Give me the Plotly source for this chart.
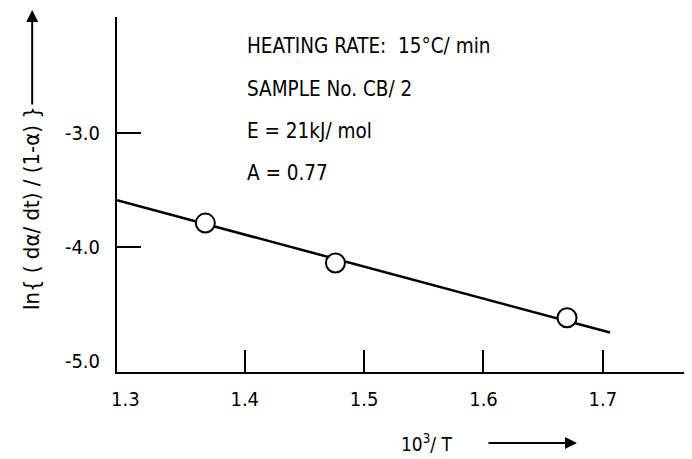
import plotly.graph_objects as go

# Data
x_points = [1.367, 1.476, 1.670]
y_points = [-3.79, -4.14, -4.62]
fit_x = [1.293, 1.706]
fit_y = [-3.59, -4.75]

x_tickvals = [1.3, 1.4, 1.5, 1.6, 1.7]
x_ticktext = ["1.3", "1.4", "1.5", "1.6", "1.7"]
y_tickvals = [-3.0, -4.0, -5.0]
y_ticktext = ["-3.0", "-4.0", "-5.0"]

info_lines = ["HEATING RATE:  15°C/ min", "SAMPLE No. CB/ 2", "E = 21kJ/ mol", "A = 0.77"]

FONT = "DejaVu Sans Condensed, DejaVu Sans, sans-serif"

fig = go.Figure()
fig.add_trace(go.Scatter(x=fit_x, y=fit_y, mode="lines",
                         line=dict(color="black", width=2.5), showlegend=False))
fig.add_trace(go.Scatter(x=x_points, y=y_points, mode="markers",
                         marker=dict(size=19, color="white", line=dict(color="black", width=2)),
                         showlegend=False))

# page body has an 8px margin: plot area sits at 117..690 x 17..372 in the window
fig.update_layout(
    width=684, height=451,
    margin=dict(l=109, r=2, t=9, b=87),
    paper_bgcolor="white", plot_bgcolor="white",
    font=dict(family=FONT, size=20, color="black"),
    xaxis=dict(range=[1.293, 1.773], showgrid=False, zeroline=False,
               showline=True, linecolor="black", linewidth=2,
               tickvals=x_tickvals, ticktext=x_ticktext, ticks="",
               ticklabelstandoff=8,
               minor=dict(tickvals=[1.4, 1.5, 1.6, 1.7], ticks="inside", ticklen=22,
                          tickwidth=2, tickcolor="black", showgrid=False)),
    yaxis=dict(range=[-5.096, -1.982], showgrid=False, zeroline=False,
               showline=True, linecolor="black", linewidth=2,
               tickvals=y_tickvals, ticktext=y_ticktext, ticks="",
               ticklabelstandoff=11,
               minor=dict(tickvals=[-3.0, -4.0], ticks="inside", ticklen=24,
                          tickwidth=2, tickcolor="black", showgrid=False)),
)

ys = [0.918, 0.797, 0.679, 0.560]
for txt, yy in zip(info_lines, ys):
    fig.add_annotation(text=txt, xref="paper", yref="paper", x=0.2234, y=yy,
                       xanchor="left", yanchor="middle", showarrow=False,
                       font=dict(size=20.5))

# y-axis title with its upward arrow
fig.add_annotation(text="ln{ ( dα/ dt) / (1-α) }", xref="paper", yref="paper",
                   x=-0.148, y=1.020, ax=0, ay=198, textangle=-90,
                   showarrow=True, arrowhead=2, arrowsize=1.2, arrowwidth=2,
                   arrowcolor="black", font=dict(size=22))
# x-axis title with its rightward arrow
fig.add_annotation(text="10<sup>3</sup>/ T", xref="paper", yref="paper",
                   x=0.8028, y=-0.200, ax=-150, ay=0,
                   showarrow=True, arrowhead=2, arrowsize=1.2, arrowwidth=2,
                   startstandoff=34, arrowcolor="black", font=dict(size=19))

fig.write_html("out.html")
